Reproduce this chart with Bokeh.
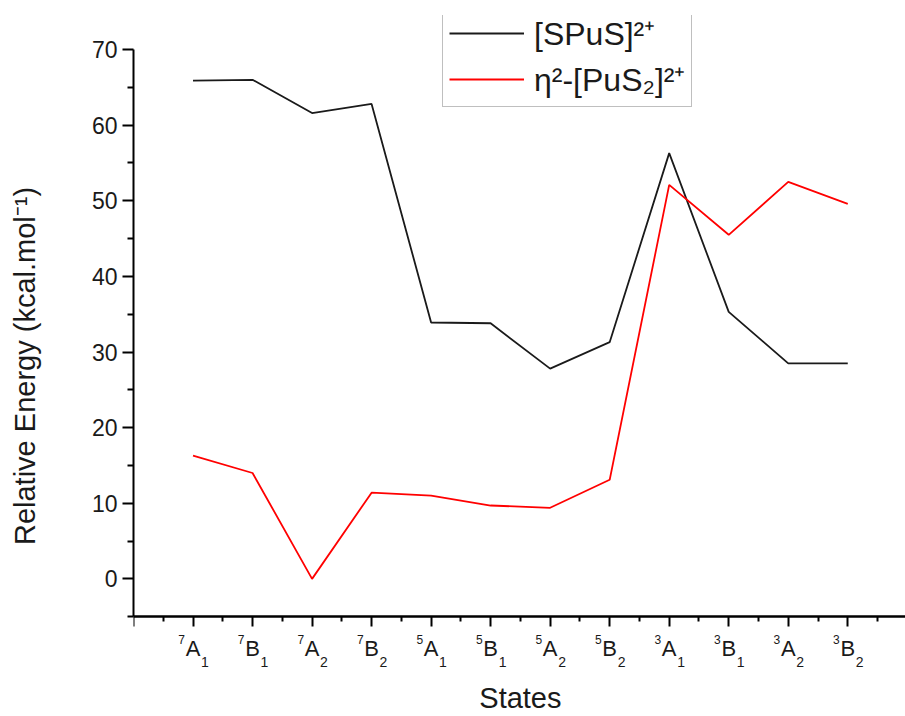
from bokeh.plotting import figure
from bokeh.models import (FixedTicker, Legend, LegendItem, Range1d, LabelSet, Label,
                          ColumnDataSource, LinearAxis)
from bokeh.core.properties import value
from bokeh.embed import file_html
from bokeh.resources import INLINE

# ---- data ----
state_spin = ["7", "7", "7", "7", "5", "5", "5", "5", "3", "3", "3", "3"]
state_sym = ["A", "B", "A", "B", "A", "B", "A", "B", "A", "B", "A", "B"]
state_sub = ["1", "1", "2", "2", "1", "1", "2", "2", "1", "1", "2", "2"]
spus = [65.9, 66.0, 61.6, 62.8, 33.9, 33.8, 27.8, 31.3, 56.3, 35.3, 28.5, 28.5]
pus2 = [16.3, 14.0, 0.0, 11.4, 11.0, 9.7, 9.4, 13.1, 52.1, 45.5, 52.5, 49.6]
series_names = ["[SPuS]²⁺", "η²-[PuS₂]²⁺"]
y_ticks = [0, 10, 20, 30, 40, 50, 60, 70]
y_minor = [-5, 5, 15, 25, 35, 45, 55, 65]
Y_MIN, Y_AXIS_TOP = -5, 70
n = len(state_sym)
x_pos = list(range(1, n + 1))

FONT = "Liberation Sans"
INK = "#1a1a1a"

p = figure(width=905, height=716, x_range=Range1d(0, 12.97), y_range=Range1d(-18.2, 74.5),
           output_backend="svg", toolbar_location=None,
           min_border_left=133, min_border_right=0, min_border_top=15, min_border_bottom=0)
p.outline_line_color = None
p.xgrid.visible = False
p.ygrid.visible = False
p.background_fill_color = "white"
p.border_fill_color = "white"

r1 = p.line(x_pos, spus, line_color=INK, line_width=1.8)
r2 = p.line(x_pos, pus2, line_color="#ff0000", line_width=1.8)

# x axis at y = Y_MIN: one axis for the half-step (minor) ticks, one for the long ticks
xa = p.xaxis[0]
xa.fixed_location = Y_MIN
xa.ticker = FixedTicker(ticks=[], minor_ticks=[i + 0.5 for i in range(0, n + 1)])
xa.axis_line_width = 2
xa.minor_tick_line_width = 2
xa.minor_tick_out = 5
xa.minor_tick_in = 0

xa2 = LinearAxis(fixed_location=Y_MIN, ticker=FixedTicker(ticks=[], minor_ticks=[0] + x_pos))
xa2.axis_line_width = 2
xa2.minor_tick_line_width = 2
xa2.minor_tick_out = 10
xa2.minor_tick_in = 0
p.add_layout(xa2, "below")

# rich-text state labels
src = ColumnDataSource(dict(x=x_pos, spin=state_spin, sym=state_sym, sub=state_sub))
common = dict(x="x", y=Y_MIN, source=src, text_font=value(FONT), text_color=INK,
              text_baseline="alphabetic")
p.add_layout(LabelSet(text="sym", text_align="center", y_offset=-39,
                      text_font_size="22px", **common))
p.add_layout(LabelSet(text="spin", text_align="right", x_offset=-8, y_offset=-27,
                      text_font_size="12px", **common))
p.add_layout(LabelSet(text="sub", text_align="left", x_offset=8, y_offset=-50,
                      text_font_size="14px", **common))
p.add_layout(Label(x=(n + 1) / 2, y=Y_MIN, y_offset=-81, text="States", text_align="center",
                   text_baseline="alphabetic", text_font=FONT, text_font_size="29px",
                   text_color=INK))

# y axis
ya = p.yaxis[0]
ya.ticker = FixedTicker(ticks=y_ticks, minor_ticks=y_minor)
ya.bounds = (Y_MIN, Y_AXIS_TOP)
ya.axis_label = "Relative Energy (kcal.mol⁻¹)"
ya.axis_label_text_font = FONT
ya.axis_label_text_font_size = "29px"
ya.axis_label_text_font_style = "normal"
ya.axis_label_text_color = INK
ya.axis_label_standoff = 48
ya.major_label_text_font = FONT
ya.major_label_text_font_size = "23px"
ya.major_label_text_color = INK
ya.major_label_standoff = 5
ya.axis_line_width = 2
ya.major_tick_line_width = 2
ya.minor_tick_line_width = 2
ya.major_tick_out = 11
ya.major_tick_in = 0
ya.minor_tick_out = 6
ya.minor_tick_in = 0

legend = Legend(items=[LegendItem(label=series_names[0], renderers=[r1]),
                       LegendItem(label=series_names[1], renderers=[r2])],
                location=(309, 609))
legend.label_text_font = FONT
legend.label_text_font_size = "32px"
legend.label_text_color = INK
legend.label_height = 38
legend.glyph_height = 38
legend.glyph_width = 75
legend.spacing = 3
legend.padding = 6
legend.margin = 0
legend.label_standoff = 10
legend.border_line_color = "#7f7f7f"
legend.border_line_width = 1.5
legend.background_fill_alpha = 1.0
p.add_layout(legend)

open("out.html", "w").write(file_html(p, INLINE))
